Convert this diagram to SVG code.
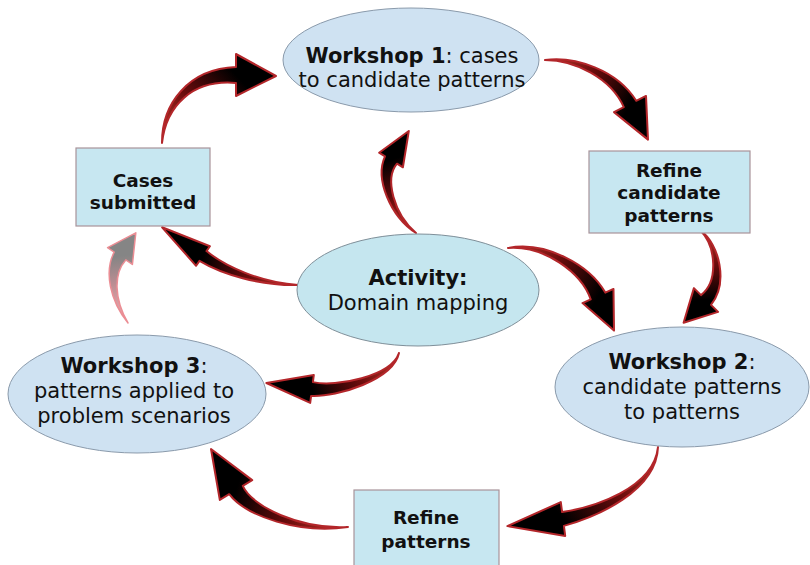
<svg xmlns="http://www.w3.org/2000/svg" width="810" height="565" viewBox="0 0 810 565">
<style>
.bg{fill:#ffffff}
.ws{fill:#cfe2f2;stroke:#8a9aab;stroke-width:1}
.act{fill:#c5e6ef;stroke:#7f8f99;stroke-width:1}
.box{fill:#c7e7f1;stroke:#a8939a;stroke-width:1.2}
.t{font-family:"DejaVu Sans","Verdana",sans-serif;font-size:21px;fill:#111;text-anchor:middle}
.tb{font-family:"DejaVu Sans","Verdana",sans-serif;font-size:18.5px;font-weight:bold;fill:#111;text-anchor:middle}
.b{font-weight:bold}
.arr{stroke:#b3262a;stroke-width:2;stroke-linejoin:round}
.arrl{stroke:#e87a82;stroke-width:1.5;stroke-linejoin:round;opacity:0.85}
</style>
<defs>
<linearGradient id="g1" gradientUnits="userSpaceOnUse" x1="162" y1="143" x2="236" y2="75"><stop offset="0" stop-color="#c0392b"/><stop offset="0.5" stop-color="#6a0c0c"/><stop offset="1" stop-color="#000"/></linearGradient>
<linearGradient id="g2" gradientUnits="userSpaceOnUse" x1="545" y1="60" x2="630" y2="104"><stop offset="0" stop-color="#c0392b"/><stop offset="0.5" stop-color="#6a0c0c"/><stop offset="1" stop-color="#000"/></linearGradient>
<linearGradient id="g3" gradientUnits="userSpaceOnUse" x1="700" y1="230" x2="706" y2="300"><stop offset="0" stop-color="#c0392b"/><stop offset="0.5" stop-color="#6a0c0c"/><stop offset="1" stop-color="#000"/></linearGradient>
<linearGradient id="g4" gradientUnits="userSpaceOnUse" x1="508" y1="248" x2="598" y2="296"><stop offset="0" stop-color="#c0392b"/><stop offset="0.5" stop-color="#6a0c0c"/><stop offset="1" stop-color="#000"/></linearGradient>
<linearGradient id="g5" gradientUnits="userSpaceOnUse" x1="658" y1="447" x2="563" y2="519"><stop offset="0" stop-color="#c0392b"/><stop offset="0.5" stop-color="#6a0c0c"/><stop offset="1" stop-color="#000"/></linearGradient>
<linearGradient id="g6" gradientUnits="userSpaceOnUse" x1="348" y1="527" x2="236" y2="490"><stop offset="0" stop-color="#c0392b"/><stop offset="0.5" stop-color="#6a0c0c"/><stop offset="1" stop-color="#000"/></linearGradient>
<linearGradient id="g7" gradientUnits="userSpaceOnUse" x1="399" y1="353" x2="312" y2="389"><stop offset="0" stop-color="#c0392b"/><stop offset="0.5" stop-color="#6a0c0c"/><stop offset="1" stop-color="#000"/></linearGradient>
<linearGradient id="g8" gradientUnits="userSpaceOnUse" x1="128" y1="323" x2="120" y2="256"><stop offset="0" stop-color="#f2a3a8"/><stop offset="0.6" stop-color="#b07a80"/><stop offset="1" stop-color="#707070"/></linearGradient>
<linearGradient id="g9" gradientUnits="userSpaceOnUse" x1="298" y1="285" x2="203" y2="256"><stop offset="0" stop-color="#c0392b"/><stop offset="0.5" stop-color="#6a0c0c"/><stop offset="1" stop-color="#000"/></linearGradient>
<linearGradient id="g10" gradientUnits="userSpaceOnUse" x1="416" y1="233" x2="391" y2="160"><stop offset="0" stop-color="#c0392b"/><stop offset="0.5" stop-color="#6a0c0c"/><stop offset="1" stop-color="#000"/></linearGradient>
</defs>
<rect class="bg" x="0" y="0" width="810" height="565"/>

<g id="connectors">
<path id="a-cases-w1" class="arr" fill="url(#g1)" d="M162,143 C166.2,105.9 192.2,79.2 236,83 L236,96 L276,76 L236,54 L236,67 C187.8,68.8 161.8,104.1 162,143 Z"/>
<path id="a-w1-rcp" class="arr" fill="url(#g2)" d="M545,60 C574.6,60.1 610.9,77.8 623.8,107.2 L614,112.1 L648,139.6 L646,95.9 L636.2,100.8 C617.1,70.2 575.4,55.9 545,60 Z"/>
<path id="a-rcp-w2" class="arr" fill="url(#g3)" d="M700,230 C716.1,245.9 718.7,281.3 701,295.1 L693.9,288.1 L683.6,322.7 L718.1,311.9 L711,304.9 C728.3,283.3 719.9,244.1 700,230 Z"/>
<path id="a-act-w2" class="arr" fill="url(#g4)" d="M508,248 C544.4,245.3 581.4,272.7 590.7,299.4 L582.5,303.1 L614,330.6 L613.5,288.9 L605.3,292.6 C589.4,264.7 545.6,240.7 508,248 Z"/>
<path id="a-w2-rp" class="arr" fill="url(#g5)" d="M658,447 C653.5,488.5 593.5,507.3 562.1,512.1 L560.8,502.1 L507.4,526.1 L565.2,535.9 L563.9,525.9 C596.5,516.7 656.5,491.5 658,447 Z"/>
<path id="a-rp-w3" class="arr" fill="url(#g6)" d="M348,527 C300.4,529.6 252.1,506.7 242.8,485.8 L252.2,480.1 L211,449 L219.8,499.9 L229.2,494.2 C245.9,516.1 299.6,534.4 348,527 Z"/>
<path id="a-act-w3" class="arr" fill="url(#g7)" d="M399,353 C390.9,376.2 336.1,387.4 312.9,382.1 L313.8,375.1 L266.4,383 L310.2,402.9 L311.1,395.9 C337.5,397.2 393.1,379.8 399,353 Z"/>
<path id="a-w3-cases" class="arrl" fill="url(#g8)" d="M128,323 C114,299.3 113.5,273.4 125.8,259.9 L132.4,264.4 L135.8,232.8 L107.6,247.6 L114.2,252.1 C103.9,271.6 110,300.7 128,323 Z"/>
<path id="a-act-cases" class="arr" fill="url(#g9)" d="M298,285 C260.3,282.2 225.4,266.6 206.5,251.1 L209.9,246.2 L162.1,227.3 L196.1,265.8 L199.5,260.9 C221.6,274.2 259.7,285.8 298,285 Z"/>
<path id="a-act-w1" class="arr" fill="url(#g10)" d="M416,233 C393.7,213.8 384.4,178.6 397,163.7 L402.9,167.3 L408.8,131 L379.1,152.7 L385,156.3 C374.6,178.8 390.3,216.2 416,233 Z"/>
</g>

<g id="workshop1">
<ellipse class="ws" cx="411" cy="60" rx="128" ry="52"/>
<text class="t" x="412" y="63"><tspan class="b">Workshop 1</tspan>: cases</text>
<text class="t" x="412" y="87">to candidate patterns</text>
</g>

<g id="cases-submitted">
<rect class="box" x="76" y="148" width="134" height="78"/>
<text class="tb" x="143" y="187">Cases</text>
<text class="tb" x="143" y="209">submitted</text>
</g>

<g id="refine-candidate">
<rect class="box" x="589" y="151" width="161" height="82"/>
<text class="tb" x="669" y="177">Refine</text>
<text class="tb" x="669" y="199">candidate</text>
<text class="tb" x="669" y="222">patterns</text>
</g>

<g id="activity">
<ellipse class="act" cx="418" cy="290" rx="121" ry="56"/>
<text class="t" x="418" y="285"><tspan class="b">Activity:</tspan></text>
<text class="t" x="418" y="310">Domain mapping</text>
</g>

<g id="workshop2">
<ellipse class="ws" cx="682" cy="387" rx="127" ry="60"/>
<text class="t" x="682" y="369"><tspan class="b">Workshop 2</tspan>:</text>
<text class="t" x="682" y="394">candidate patterns</text>
<text class="t" x="682" y="419">to patterns</text>
</g>

<g id="workshop3">
<ellipse class="ws" cx="137" cy="394" rx="129" ry="59"/>
<text class="t" x="134" y="373"><tspan class="b">Workshop 3</tspan>:</text>
<text class="t" x="134" y="398">patterns applied to</text>
<text class="t" x="134" y="423">problem scenarios</text>
</g>

<g id="refine-patterns">
<rect class="box" x="354" y="490" width="145" height="85"/>
<text class="tb" x="426" y="524">Refine</text>
<text class="tb" x="426" y="548">patterns</text>
</g>
</svg>
